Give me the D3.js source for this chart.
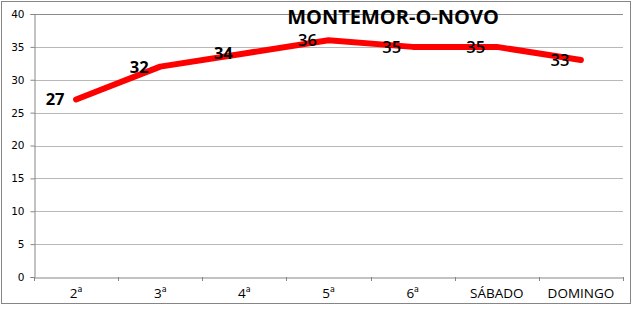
<!DOCTYPE html>
<html>
<head>
<meta charset="utf-8">
<script src="https://cdn.jsdelivr.net/npm/d3@7"></script>
<style>
  body { margin: 0; background: #fff; }
</style>
</head>
<body>
<div id="chart"></div>
<script>
// data
var days = ["2ª", "3ª", "4ª", "5ª", "6ª", "SÁBADO", "DOMINGO"];
var values = [27, 32, 34, 36, 35, 35, 33];
var yTicks = [0, 5, 10, 15, 20, 25, 30, 35, 40];
var title = "MONTEMOR-O-NOVO";

// dimensions
var W = 640, H = 311;
var margin = {top: 14, right: 17, bottom: 34, left: 34},
    width = W - margin.left - margin.right,
    height = H - margin.top - margin.bottom;

var svg = d3.select("#chart").append("svg")
    .attr("width", W)
    .attr("height", H);

// outer frame
svg.append("rect")
    .attr("x", 1.5).attr("y", 1.5)
    .attr("width", 629).attr("height", 302)
    .attr("fill", "#fff")
    .attr("stroke", "#868686");

var g = svg.append("g")
    .attr("transform", "translate(" + margin.left + "," + margin.top + ")");

// scales
var x = d3.scaleBand().domain(days).range([0, width]);
var y = d3.scaleLinear().domain([0, 40]).range([height, 0]);

// gridlines
g.selectAll(".grid")
    .data(yTicks.filter(function(d) { return d > 0; }))
    .enter().append("line")
    .attr("x1", 0).attr("x2", width)
    .attr("y1", function(d) { return Math.round(y(d)) + 0.5; })
    .attr("y2", function(d) { return Math.round(y(d)) + 0.5; })
    .attr("stroke", function(d) { return d === 40 ? "#8c8c8c" : "#b8b8b8"; })
    .attr("stroke-width", 1);

// y axis
var yAxis = g.append("g")
    .attr("transform", "translate(0.5,0)")
    .call(d3.axisLeft(y).tickValues(yTicks).tickSize(4).tickPadding(6));
yAxis.selectAll("path, line").attr("stroke", "#868686");
yAxis.selectAll("text")
    .attr("font-family", "DejaVu Sans, Verdana, sans-serif")
    .attr("font-size", "10.5px")
    .attr("fill", "#000");

// x axis
var xAxis = g.append("g")
    .attr("transform", "translate(0," + (Math.round(height) + 0.5) + ")")
    .call(d3.axisBottom(x).tickSize(0).tickPadding(11));
xAxis.select(".domain").attr("stroke", "#868686");
xAxis.selectAll("text")
    .attr("font-family", "Open Sans, sans-serif")
    .attr("font-size", "13.5px")
    .attr("fill", "#000");

// band boundary ticks
g.selectAll(".xtick")
    .data(days.concat(["end"]))
    .enter().append("line")
    .attr("x1", function(d, i) { return Math.round(i * x.step()) + 0.5; })
    .attr("x2", function(d, i) { return Math.round(i * x.step()) + 0.5; })
    .attr("y1", height).attr("y2", height + 4)
    .attr("stroke", "#868686");

// the line
var line = d3.line()
    .x(function(d, i) { return x(days[i]) + x.bandwidth() / 2; })
    .y(function(d) { return y(d); });

g.append("path")
    .datum(values)
    .attr("d", line)
    .attr("fill", "none")
    .attr("stroke", "#ff0000")
    .attr("stroke-width", 6)
    .attr("stroke-linecap", "round")
    .attr("stroke-linejoin", "round");

// data labels
g.selectAll(".lbl")
    .data(values)
    .enter().append("text")
    .attr("x", function(d, i) { return x(days[i]) + x.bandwidth() / 2 - 21; })
    .attr("y", function(d) { return y(d); })
    .attr("dy", "0.36em")
    .attr("text-anchor", "middle")
    .attr("font-family", "Open Sans, sans-serif")
    .attr("font-size", "16.5px")
    .attr("font-weight", function(d, i) { return i < 3 ? "bold" : "600"; })
    .attr("fill", "#000")
    .text(function(d) { return d; });

// title
svg.append("text")
    .attr("x", 393)
    .attr("y", 24)
    .attr("text-anchor", "middle")
    .attr("font-family", "Open Sans, sans-serif")
    .attr("font-size", "20px")
    .attr("font-weight", "bold")
    .attr("fill", "#000")
    .text(title);
</script>
</body>
</html>
